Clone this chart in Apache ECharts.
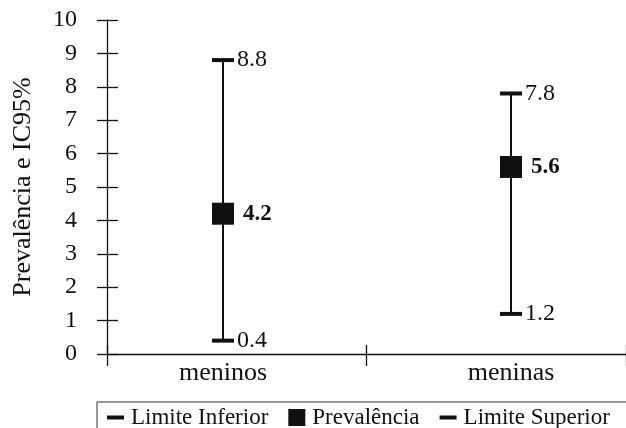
<!DOCTYPE html>
<html><head><meta charset="utf-8">
<script src="https://cdn.jsdelivr.net/npm/echarts@6/dist/echarts.min.js"></script>
<style>html,body{margin:0;padding:0;background:#fff}#c{width:626px;height:428px}</style>
</head><body><div id="c"></div>
<script>
const categories = ['meninos', 'meninas'];
const lower = [0.4, 1.2];
const prevalence = [4.2, 5.6];
const upper = [8.8, 7.8];
const yTicks = [0, 1, 2, 3, 4, 5, 6, 7, 8, 9, 10];

const FONT = '"Liberation Serif", "Times New Roman", serif';
const INK = '#111';
const chart = echarts.init(document.getElementById('c'), null, {renderer: 'canvas'});
const yBase = {min: yTicks[0], max: yTicks[yTicks.length - 1], interval: 1, splitLine: {show: false}};
chart.setOption({
  animation: false,
  backgroundColor: '#fff',
  textStyle: {fontFamily: FONT, color: INK},
  grid: [
    {left: 79, width: 576, top: 20, bottom: 74, outerBoundsMode: 'none'},
    {left: 107, right: 0, top: 20, bottom: 74, outerBoundsMode: 'none'}
  ],
  xAxis: [
    {gridIndex: 0, type: 'category', data: categories, boundaryGap: true,
     axisLine: {show: false}, axisTick: {show: false},
     axisLabel: {margin: 6, fontSize: 26, fontFamily: FONT, color: INK}},
    {gridIndex: 1, type: 'category', data: categories, position: 'bottom',
     axisLine: {show: true, lineStyle: {color: INK, width: 1.3}},
     axisTick: {show: true, inside: false, length: 12, lineStyle: {color: INK, width: 1.3}},
     axisLabel: {show: false}},
    {gridIndex: 1, type: 'category', data: categories, position: 'bottom',
     axisLine: {show: false},
     axisTick: {show: true, inside: true, length: 9, lineStyle: {color: INK, width: 1.3}},
     axisLabel: {show: false}}
  ],
  yAxis: [
    Object.assign({gridIndex: 0, type: 'value', show: false}, yBase),
    Object.assign({gridIndex: 1, type: 'value', position: 'left',
     name: 'Prevalência e IC95%', nameLocation: 'middle', nameGap: 71,
     nameTextStyle: {fontSize: 26, fontFamily: FONT, color: INK},
     axisLine: {show: true, lineStyle: {color: INK, width: 1.3}},
     axisTick: {show: true, inside: false, length: 10, lineStyle: {color: INK, width: 1.3}},
     axisLabel: {margin: 30, fontSize: 24, fontFamily: FONT, color: INK}}, yBase),
    Object.assign({gridIndex: 1, type: 'value', position: 'left',
     axisLine: {show: false},
     axisTick: {show: true, inside: true, length: 11, lineStyle: {color: INK, width: 1.3}},
     axisLabel: {show: false}}, yBase)
  ],
  legend: {
    left: 97, top: 402, width: 560, orient: 'horizontal', selectedMode: false,
    borderColor: '#333', borderWidth: 1, padding: [4, 40, 12, 10],
    itemGap: 20, itemWidth: 17, itemHeight: 17,
    textStyle: {fontSize: 23, fontFamily: FONT, color: INK, padding: [0, 0, 0, 2]},
    data: [
      {name: 'Limite Inferior', icon: 'path://M0,0L17,0L17,4L0,4Z', itemStyle: {color: INK, opacity: 1}},
      {name: 'Prevalência', icon: 'rect', itemStyle: {color: INK, opacity: 1}},
      {name: 'Limite Superior', icon: 'path://M0,0L17,0L17,4L0,4Z', itemStyle: {color: INK, opacity: 1}}
    ]
  },
  series: [
    {type: 'custom', name: 'IC', xAxisIndex: 0, yAxisIndex: 0, z: 1,
     data: categories.map((c, i) => [i, lower[i], upper[i]]),
     encode: {x: 0, y: [1, 2]},
     renderItem: function (params, api) {
       const p1 = api.coord([api.value(0), api.value(1)]);
       const p2 = api.coord([api.value(0), api.value(2)]);
       return {type: 'line', shape: {x1: p1[0], y1: p1[1], x2: p2[0], y2: p2[1]},
               style: {stroke: INK, lineWidth: 2}};
     }},
    {type: 'scatter', name: 'Limite Inferior', xAxisIndex: 0, yAxisIndex: 0, z: 3,
     data: lower, symbol: 'rect', symbolSize: [22, 4], itemStyle: {color: INK, opacity: 1},
     label: {show: true, position: 'right', distance: 3, fontSize: 24, fontFamily: FONT, color: INK}},
    {type: 'scatter', name: 'Prevalência', xAxisIndex: 0, yAxisIndex: 0, z: 3,
     data: prevalence, symbol: 'rect', symbolSize: 22, itemStyle: {color: INK, opacity: 1},
     label: {show: true, position: 'right', distance: 9, fontSize: 23, fontWeight: 'bold', fontFamily: FONT, color: INK}},
    {type: 'scatter', name: 'Limite Superior', xAxisIndex: 0, yAxisIndex: 0, z: 3,
     data: upper, symbol: 'rect', symbolSize: [22, 4], itemStyle: {color: INK, opacity: 1},
     label: {show: true, position: 'right', distance: 3, fontSize: 24, fontFamily: FONT, color: INK}}
  ]
});
</script></body></html>
